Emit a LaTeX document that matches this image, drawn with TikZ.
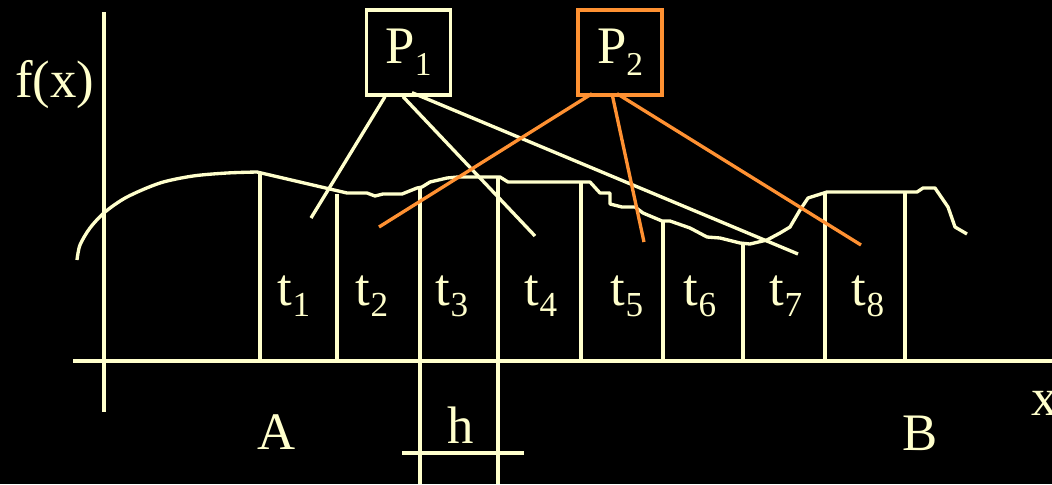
\documentclass[tikz,border=0pt]{standalone}
\usepackage{fontspec}
\setmainfont{Liberation Serif}
\usepackage{tikz}
\usetikzlibrary{calc}
\definecolor{cream}{RGB}{255,255,204}
\definecolor{tangerine}{RGB}{255,145,50}
\newcommand{\lowt}[1]{\raisebox{-6.8pt}{\fontsize{20}{20}\selectfont #1}}
\newcommand{\lowp}[1]{\raisebox{-6.8pt}{\fontsize{19}{19}\selectfont #1}}

\begin{document}
\begin{tikzpicture}[x=0.02cm, y=-0.02cm,
  lin/.style={cream, line width=1.9pt},
  hot/.style={tangerine, line width=1.9pt},
  lbl/.style={text=cream, inner sep=0pt, anchor=base, font=\fontsize{30}{36}\selectfont},
  procbox/.style={draw, line width=1.9pt, text=cream, minimum width=1.68cm, minimum height=1.7cm, inner sep=0pt, font=\fontsize{30}{36}\selectfont}]
\fill[black] (0,0) rectangle (1052,484);
\useasboundingbox (0,0) rectangle (1052,484);

% axes
\draw[lin] (104,12) -- (104,412);
\draw[lin] (73,361) -- (1052,361);
\node[lbl, anchor=base west] (fx) at (15,97) {f(x)};
\node[lbl, anchor=base west] (xl) at (1031,415) {x};

% the function
\draw[lin, line join=round] plot[smooth] coordinates {(77,260) (80,245) (90,228) (105,212) (127,197) (160,183) (193,176) (227,173) (257,172)}
  -- (347,193) -- (367,193) -- (375,196) -- (383,194) -- (402,194) -- (417,188) -- (422,187) -- (430,182)
  -- (447,178) -- (458,177) -- (500,177) -- (508,182) -- (590,182) -- (600,193) -- (610,193) -- (610,204)
  -- (622,207) -- (635,207) -- (643,213) -- (662,221) -- (670,221) -- (690,228) -- (707,237) -- (720,238)
  -- (740,243) -- (750,244) -- (767,240) -- (780,233) -- (790,227) -- (800,210) -- (808,198) -- (827,192)
  -- (917,192) -- (923,188) -- (935,188) -- (948,207) -- (955,227) -- (967,234);

% strips
\foreach \xx/\yy in {260/174, 337/194, 581/181, 663/221, 743/243, 825/194, 905/192}
  \draw[lin] (\xx,\yy) -- (\xx,361);
\foreach \xx/\yy in {420/187, 498/178}
  \draw[lin] (\xx,\yy) -- (\xx,484);
\draw[lin] (402,453) -- (524,453);

% labels
\node[lbl] (t1) at (294,305) {t\lowt{1}};
\node[lbl] (t2) at (372,305) {t\lowt{2}};
\node[lbl] (t3) at (452,305) {t\lowt{3}};
\node[lbl] (t4) at (541,305) {t\lowt{4}};
\node[lbl] (t5) at (627,305) {t\lowt{5}};
\node[lbl] (t6) at (700,305) {t\lowt{6}};
\node[lbl] (t7) at (786,305) {t\lowt{7}};
\node[lbl] (t8) at (868,305) {t\lowt{8}};
\node[lbl] (a) at (277,449) {A};
\node[lbl] (b) at (920,450) {B};
\node[lbl] (h) at (461,443) {h};

% processors
\node[procbox, draw=cream] (p1) at (408.5,52.5) {P\lowp{1}};
\node[procbox, draw=tangerine] (p2) at (620,52.5) {P\lowp{2}};

\coordinate (e1) at (311,218);
\coordinate (e2) at (535,236);
\coordinate (e3) at (798,254);
\coordinate (e4) at (379,227);
\coordinate (e5) at (644,242);
\coordinate (e6) at (861,245);

\draw[lin] ($(p1.south)+(-23.5,0)$) -- (e1);
\draw[lin] ($(p1.south)+(-5.5,0)$) -- (e2);
\draw[lin] ($(p1.south)+(3.5,-4)$) -- (e3);
\draw[hot] ($(p2.south)+(-28,-3)$) -- (e4);
\draw[hot] ($(p2.south)+(-8,-3)$) -- (e5);
\draw[hot] ($(p2.south)+(-3,-3)$) -- (e6);
\end{tikzpicture}
\end{document}
